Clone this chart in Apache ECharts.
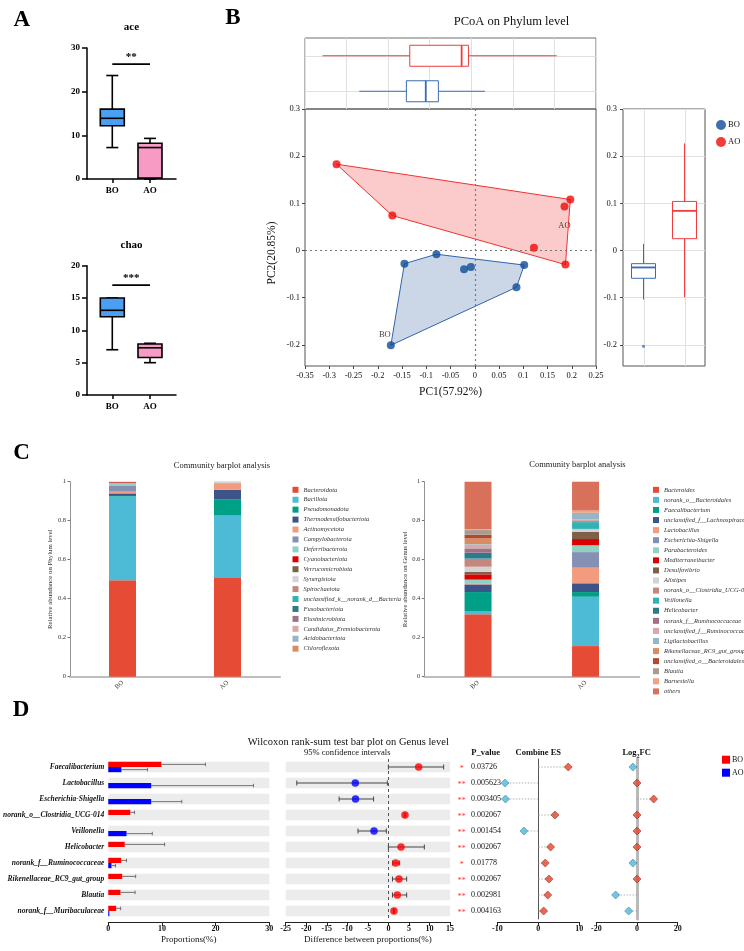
<!DOCTYPE html>
<html>
<head>
<meta charset="utf-8">
<script src="https://cdn.jsdelivr.net/npm/echarts@6.0.0/dist/echarts.min.js"></script>
<style>
html, body { margin: 0; padding: 0; background: #fff; }
#wrap { position: relative; width: 744px; height: 951px; }
.layer { position: absolute; left: 0; top: 0; width: 744px; height: 951px; }
</style>
</head>
<body>
<div id="wrap">
  <div class="layer" id="pa"></div>
  <div class="layer" id="pb"></div>
  <div class="layer" id="pc1"></div>
  <div class="layer" id="pc2"></div>
  <div class="layer" id="pd"></div>
</div>
<script>
const SERIF = "'Liberation Serif','Times New Roman',serif";

// ---------- A: alpha diversity (min, Q1, median, Q3, max) ----------
const groupsA = ['BO', 'AO'];
const aceBO = [7.2, 12.2, 13.9, 16.0, 23.7];
const aceAO = [0.0, 0.2, 7.2, 8.2, 9.3];
const chaoBO = [7.0, 12.1, 13.1, 15.0, 15.0];
const chaoAO = [5.0, 5.8, 7.3, 7.9, 8.0];
const aceSig = { y: 26.3, stars: '**' };
const chaoSig = { y: 17, stars: '***' };

// ---------- B: PCoA ----------
const aoPC1 = [-0.285, -0.170, 0.122, 0.197, 0.185, 0.187];
const aoPC2 = [0.183, 0.074, 0.006, 0.108, 0.093, -0.030];
const boPC1 = [-0.145, -0.079, -0.022, -0.008, 0.102, 0.086, -0.173];
const boPC2 = [-0.028, -0.008, -0.040, -0.035, -0.031, -0.078, -0.201];
// marginal boxes: lower whisker, Q1, median, Q3, upper whisker
const pc1BoxAO = [-0.314, -0.134, -0.027, -0.013, 0.169];
const pc1BoxBO = [-0.238, -0.141, -0.101, -0.075, 0.021];
const pc2BoxBO = [-0.104, -0.059, -0.036, -0.028, 0.014];
const pc2BoxAO = [-0.099, 0.025, 0.084, 0.104, 0.227];
const pc2OutlierBO = [-0.203];
const pc2Ticks = [-0.2, -0.1, 0, 0.1, 0.2, 0.3];

// ---------- C: community barplots ----------
const samples = ['BO', 'AO'];
const phylumNames = ['Bacteroidota', 'Bacillota', 'Pseudomonadota', 'Thermodesulfobacteriota', 'Actinomycetota',
  'Campylobacterota', 'Deferribacterota', 'Cyanobacteriota', 'Verrucomicrobiota', 'Synergistota', 'Spirochaetota',
  'unclassified_k__norank_d__Bacteria', 'Fusobacteriota', 'Elusimicrobiota', 'Candidatus_Eremiobacterota',
  'Acidobacteriota', 'Chloroflexota'];
const phylumBO = [0.494, 0.430, 0.003, 0.013, 0.009, 0.032, 0.012, 0.004, 0.001, 0.001, 0.001, 0, 0, 0, 0, 0, 0];
const phylumAO = [0.506, 0.320, 0.082, 0.051, 0.032, 0.002, 0.001, 0, 0, 0.004, 0.001, 0.001, 0, 0, 0, 0, 0];
const genusNames = ['Bacteroides', 'norank_o__Bacteroidales', 'Faecalibacterium', 'unclassified_f__Lachnospiraceae',
  'Lactobacillus', 'Escherichia-Shigella', 'Parabacteroides', 'Mediterraneibacter', 'Desulfovibrio', 'Alistipes',
  'norank_o__Clostridia_UCG-014', 'Veillonella', 'Helicobacter', 'norank_f__Ruminococcaceae',
  'unclassified_f__Ruminococcaceae', 'Ligilactobacillus', 'Rikenellaceae_RC9_gut_group',
  'unclassified_o__Bacteroidales', 'Blautia', 'Barnesiella', 'others'];
const genusBO = [0.320, 0.017, 0.097, 0.039, 0.002, 0.001, 0.022, 0.027, 0.012, 0.027, 0.040, 0.002, 0.030,
  0.022, 0.019, 0.003, 0.029, 0.019, 0.024, 0.005, 0.243];
const genusAO = [0.157, 0.253, 0.024, 0.045, 0.080, 0.080, 0.035, 0.032, 0.036, 0.014, 0.002, 0.034, 0.002,
  0.004, 0.008, 0.028, 0.002, 0.002, 0.003, 0.011, 0.150];
const palette = ['#e64b35', '#4dbbd5', '#00a087', '#3c5488', '#f39b7f', '#8491b4', '#91d1c2', '#dc0000',
  '#7e6148', '#d3d3d3', '#c4877e', '#2fb3b3', '#2e7a89', '#a07089', '#d8a9ab', '#94b6c9', '#d98c5f',
  '#b4472c', '#a89b8f', '#f2a183', '#d9705a'];

// ---------- D: Wilcoxon rank-sum test ----------
const genera = ['Faecalibacterium', 'Lactobacillus', 'Escherichia-Shigella', 'norank_o__Clostridia_UCG-014',
  'Veillonella', 'Helicobacter', 'norank_f__Ruminococcaceae', 'Rikenellaceae_RC9_gut_group', 'Blautia',
  'norank_f__Muribaculaceae'];
const boMean = [9.9, 0, 0, 4.1, 0, 3.06, 2.4, 2.6, 2.27, 1.47];
const boErr = [8.2, 0, 0, 0.8, 0, 7.44, 1.0, 2.5, 2.73, 0.83];
const aoMean = [2.45, 8.0, 8.0, 0, 3.4, 0, 0.6, 0, 0, 0.2];
const aoErr = [4.85, 19.06, 5.7, 0, 4.8, 0, 0.75, 0, 0, 0];
const diffMean = [7.37, -8.06, -8.0, 4.04, -3.5, 3.07, 1.77, 2.58, 2.17, 1.36];
const ciLow = [0.0, -22.3, -12.0, 3.95, -7.4, 0.0, 1.04, 1.0, 1.0, 1.25];
const ciHigh = [13.45, -0.25, -3.6, 4.15, -0.5, 8.75, 2.74, 4.45, 4.45, 1.5];
const pValues = ['0.03726', '0.005623', '0.003405', '0.002067', '0.001454', '0.002067', '0.01778', '0.002067',
  '0.002981', '0.004163'];
const combineES = [7.3, -8.1, -8.0, 4.07, -3.5, 3.0, 1.7, 2.6, 2.3, 1.3];
const log2FC = [-2.0, 0, 8.2, 0, 0, 0, -2.0, 0, -10.5, -4.1];

function txt(text, x, y, size, opts) {
  return {
    type: 'text', x: x, y: y, silent: true,
    style: Object.assign({
      text: text, fontFamily: SERIF, fontSize: size, fill: '#000',
      align: 'center', verticalAlign: 'middle'
    }, opts || {})
  };
}

// ================= Panel A =================
function gpBox(fills) {
  return function (params, api) {
    const x = api.value(0);
    const p = [1, 2, 3, 4, 5].map(k => api.coord([x, api.value(k)]));
    const cx = p[0][0], h = 12, c = 6;
    const st = { stroke: '#000', lineWidth: 1.6 };
    return {
      type: 'group', children: [
        { type: 'line', shape: { x1: cx, y1: p[4][1], x2: cx, y2: p[3][1] }, style: st },
        { type: 'line', shape: { x1: cx, y1: p[1][1], x2: cx, y2: p[0][1] }, style: st },
        { type: 'line', shape: { x1: cx - c, y1: p[4][1], x2: cx + c, y2: p[4][1] }, style: st },
        { type: 'line', shape: { x1: cx - c, y1: p[0][1], x2: cx + c, y2: p[0][1] }, style: st },
        { type: 'rect', shape: { x: cx - h, y: p[3][1], width: 2 * h, height: p[1][1] - p[3][1] },
          style: { fill: fills[params.dataIndex], stroke: '#000', lineWidth: 1.6 } },
        { type: 'line', shape: { x1: cx - h, y1: p[2][1], x2: cx + h, y2: p[2][1] }, style: st }
      ]
    };
  };
}
function sigSeries(axisIdx, sig) {
  return {
    type: 'custom', xAxisIndex: axisIdx, yAxisIndex: axisIdx, data: [[0, sig.y]],
    renderItem: function (params, api) {
      const a = api.coord([0, sig.y]), b = api.coord([1, sig.y]);
      return {
        type: 'group', children: [
          { type: 'line', shape: { x1: a[0], y1: a[1], x2: b[0], y2: b[1] }, style: { stroke: '#000', lineWidth: 1.8 } },
          { type: 'text', style: { text: sig.stars, x: (a[0] + b[0]) / 2, y: a[1] - 7, fontFamily: SERIF,
            fontSize: 11, fontWeight: 'bold', fill: '#000', align: 'center', verticalAlign: 'middle' } }
        ]
      };
    }
  };
}
const blackLine = { color: '#000', width: 1.5 };
function aX(i) {
  return {
    gridIndex: i, type: 'value', min: -0.671, max: 1.69,
    axisLine: { onZero: false, lineStyle: blackLine },
    axisTick: { customValues: [0, 1], length: 4, lineStyle: blackLine },
    axisLabel: { customValues: [0, 1], formatter: v => groupsA[Math.round(v)], fontFamily: SERIF,
      fontWeight: 'bold', fontSize: 9, color: '#000', margin: 7 },
    splitLine: { show: false }
  };
}
function aY(i, max, interval) {
  return {
    gridIndex: i, type: 'value', min: 0, max: max, interval: interval,
    axisLine: { show: true, onZero: false, lineStyle: blackLine },
    axisTick: { show: true, length: 5, lineStyle: blackLine },
    axisLabel: { fontFamily: SERIF, fontWeight: 'bold', fontSize: 9, color: '#000', margin: 7 },
    splitLine: { show: false }
  };
}
const boxFillsA = ['#4a9ff2', '#f79ac4'];
echarts.init(document.getElementById('pa')).setOption({
  animation: false,
  grid: [{ left: 87, top: 48, width: 89, height: 131 }, { left: 87, top: 265.7, width: 89, height: 129.3 }],
  xAxis: [aX(0), aX(1)],
  yAxis: [aY(0, 30, 10), aY(1, 20, 5)],
  graphic: [
    txt('A', 21.7, 20, 23, { fontWeight: 'bold' }),
    txt('ace', 131.5, 27.5, 11, { fontWeight: 'bold' }),
    txt('chao', 131.5, 245, 11, { fontWeight: 'bold' })
  ],
  series: [
    { type: 'custom', xAxisIndex: 0, yAxisIndex: 0, renderItem: gpBox(boxFillsA),
      data: [[0].concat(aceBO), [1].concat(aceAO)] },
    { type: 'custom', xAxisIndex: 1, yAxisIndex: 1, renderItem: gpBox(boxFillsA),
      data: [[0].concat(chaoBO), [1].concat(chaoAO)] },
    sigSeries(0, aceSig),
    sigSeries(1, chaoSig)
  ]
});

// ================= Panel B =================
function convexHull(xs, ys) {
  const pts = xs.map((x, i) => [x, ys[i]]).sort((a, b) => a[0] - b[0] || a[1] - b[1]);
  const cross = (o, a, b) => (a[0] - o[0]) * (b[1] - o[1]) - (a[1] - o[1]) * (b[0] - o[0]);
  const lower = [], upper = [];
  pts.forEach(p => {
    while (lower.length >= 2 && cross(lower[lower.length - 2], lower[lower.length - 1], p) <= 0) lower.pop();
    lower.push(p);
  });
  pts.slice().reverse().forEach(p => {
    while (upper.length >= 2 && cross(upper[upper.length - 2], upper[upper.length - 1], p) <= 0) upper.pop();
    upper.push(p);
  });
  return lower.slice(0, -1).concat(upper.slice(0, -1));
}
function hullSeries(xs, ys, fill, stroke) {
  const hull = convexHull(xs, ys);
  return {
    type: 'custom', xAxisIndex: 1, yAxisIndex: 1, z: 1, silent: true, data: hull,
    renderItem: function (params, api) {
      if (params.dataIndex !== 0) return null;
      return { type: 'polygon', shape: { points: hull.map(p => api.coord(p)) },
        style: { fill: fill, stroke: stroke, lineWidth: 1 } };
    }
  };
}
// outlined box; horizontal = boxes along x at a given y slot
function olBox(horizontal, colors, half) {
  return function (params, api) {
    const slot = api.value(0);
    const p = [1, 2, 3, 4, 5].map(k => horizontal ? api.coord([api.value(k), slot]) : api.coord([slot, api.value(k)]));
    const col = colors[params.dataIndex];
    const st = { stroke: col, lineWidth: 1 };
    let kids;
    if (horizontal) {
      const cy = p[0][1];
      kids = [
        { type: 'line', shape: { x1: p[0][0], y1: cy, x2: p[1][0], y2: cy }, style: st },
        { type: 'line', shape: { x1: p[3][0], y1: cy, x2: p[4][0], y2: cy }, style: st },
        { type: 'rect', shape: { x: p[1][0], y: cy - half, width: p[3][0] - p[1][0], height: 2 * half },
          style: { fill: '#fff', stroke: col, lineWidth: 1 } },
        { type: 'line', shape: { x1: p[2][0], y1: cy - half, x2: p[2][0], y2: cy + half }, style: { stroke: col, lineWidth: 1.8 } }
      ];
    } else {
      const cx = p[0][0];
      kids = [
        { type: 'line', shape: { x1: cx, y1: p[0][1], x2: cx, y2: p[1][1] }, style: st },
        { type: 'line', shape: { x1: cx, y1: p[3][1], x2: cx, y2: p[4][1] }, style: st },
        { type: 'rect', shape: { x: cx - half, y: p[3][1], width: 2 * half, height: p[1][1] - p[3][1] },
          style: { fill: '#fff', stroke: col, lineWidth: 1 } },
        { type: 'line', shape: { x1: cx - half, y1: p[2][1], x2: cx + half, y2: p[2][1] }, style: { stroke: col, lineWidth: 1.8 } }
      ];
    }
    return { type: 'group', children: kids };
  };
}
const guideColor = '#e0e0e0';
// full-height guide line through each group position of the PC2 box panel (snapped to the pixel grid)
function groupGuide(params, api) {
  const top = api.coord([api.value(0), 0.3]);
  const bottom = api.coord([api.value(0), -0.245]);
  const x = Math.round(top[0]) + 0.5;
  return { type: 'line', shape: { x1: x, y1: top[1], x2: x, y2: bottom[1] },
    style: { stroke: guideColor, lineWidth: 1 } };
}
const redB = '#f03c3c', blueB = '#3a6cb4';
const axisTxtB = { fontFamily: SERIF, fontSize: 8.5, color: '#111' };
const guide = { silent: true, symbol: 'none', z: 0, label: { show: false },
  lineStyle: { color: guideColor, width: 1, type: 'solid' } };
echarts.init(document.getElementById('pb')).setOption({
  animation: false,
  grid: [
    { left: 305, top: 38, width: 291, height: 71, show: true, borderColor: '#6e6e6e', borderWidth: 1 },
    { left: 305, top: 109, width: 291, height: 257, show: true, borderColor: '#555', borderWidth: 1 },
    { left: 623, top: 109, width: 82, height: 257, show: true, borderColor: '#555', borderWidth: 1 }
  ],
  xAxis: [
    { gridIndex: 0, type: 'value', min: -0.35, max: 0.25, interval: 0.6 / 7, axisLine: { show: false, onZero: false },
      axisTick: { show: false }, axisLabel: { show: false }, splitLine: { lineStyle: { color: guideColor } } },
    { gridIndex: 1, type: 'value', min: -0.35, max: 0.25, interval: 0.05, axisLine: { show: false, onZero: false },
      axisTick: { show: true, length: 3, lineStyle: { color: '#444' } }, axisLabel: Object.assign({ margin: 5 }, axisTxtB),
      splitLine: { show: false }, name: 'PC1(57.92%)', nameLocation: 'middle', nameGap: 20,
      nameTextStyle: { fontFamily: SERIF, fontSize: 11.5, color: '#111' } },
    { gridIndex: 2, type: 'value', min: -0.5, max: 1.5, axisLine: { show: false, onZero: false },
      axisTick: { show: false }, axisLabel: { show: false }, splitLine: { show: false } }
  ],
  yAxis: [
    { gridIndex: 0, type: 'value', min: 0, max: 4, show: false, axisLine: { onZero: false } },
    { gridIndex: 1, type: 'value', min: -0.245, max: 0.3, axisLine: { show: false, onZero: false },
      axisTick: { show: true, length: 3, customValues: pc2Ticks, lineStyle: { color: '#444' } },
      axisLabel: Object.assign({ margin: 5, customValues: pc2Ticks }, axisTxtB), splitLine: { show: false } },
    { gridIndex: 2, type: 'value', min: -0.245, max: 0.3, axisLine: { show: false, onZero: false },
      axisTick: { show: true, length: 3, customValues: pc2Ticks, lineStyle: { color: '#444' } },
      axisLabel: Object.assign({ margin: 6, customValues: pc2Ticks }, axisTxtB),
      splitLine: { show: true, lineStyle: { color: guideColor } } }
  ],
  legend: { orient: 'vertical', left: 711, top: 115, itemWidth: 10, itemHeight: 10, itemGap: 7, icon: 'circle',
    data: ['BO', 'AO'], textStyle: { fontFamily: SERIF, fontSize: 8.5, color: '#111', padding: [0, 0, 0, -3] } },
  graphic: [
    txt('B', 233, 18.5, 23, { fontWeight: 'bold' }),
    txt('PCoA on Phylum level', 511.5, 22, 12.5, { fill: '#111' }),
    Object.assign(txt('PC2(20.85%)', 271.7, 253, 11.5, { fill: '#111' }), { rotation: Math.PI / 2 })
  ],
  series: [
    { type: 'custom', name: 'pc1box', xAxisIndex: 0, yAxisIndex: 0, z: 3,
      renderItem: olBox(true, [redB, blueB], 10.5),
      data: [[3].concat(pc1BoxAO), [1].concat(pc1BoxBO)],
      markLine: Object.assign({ data: [{ yAxis: 1 }, { yAxis: 3 }] }, guide) },
    { type: 'custom', name: 'pc2guide', xAxisIndex: 2, yAxisIndex: 2, z: 2, silent: true,
      renderItem: groupGuide, data: [[0, 0], [1, 0]] },
    { type: 'custom', name: 'pc2box', xAxisIndex: 2, yAxisIndex: 2, z: 3,
      renderItem: olBox(false, [blueB, redB], 12),
      data: [[0].concat(pc2BoxBO), [1].concat(pc2BoxAO)] },
    { type: 'scatter', name: 'pc2out', xAxisIndex: 2, yAxisIndex: 2, symbolSize: 3, z: 4,
      itemStyle: { color: blueB }, data: pc2OutlierBO.map(v => [0, v]) },
    hullSeries(aoPC1, aoPC2, 'rgba(240,70,70,0.28)', '#ef3030'),
    hullSeries(boPC1, boPC2, 'rgba(70,110,165,0.28)', '#2f63ad'),
    { type: 'scatter', name: 'BO', xAxisIndex: 1, yAxisIndex: 1, symbolSize: 8, z: 5,
      itemStyle: { color: '#0f4c97' },
      markLine: { silent: true, symbol: 'none', label: { show: false },
        lineStyle: { color: '#777', width: 1.2, type: [2, 3] }, data: [{ xAxis: 0 }, { yAxis: 0 }] },
      data: boPC1.map((x, i) => {
        const d = { value: [x, boPC2[i]] };
        if (boPC2[i] === Math.min.apply(null, boPC2)) {
          d.label = { show: true, formatter: 'BO', position: 'top', offset: [-6, 0], distance: 2,
            fontFamily: SERIF, fontSize: 8.5, color: '#111' };
        }
        return d;
      }) },
    { type: 'scatter', name: 'AO', xAxisIndex: 1, yAxisIndex: 1, symbolSize: 8, z: 5,
      itemStyle: { color: '#f00a0a' },
      data: aoPC1.map((x, i) => {
        const d = { value: [x, aoPC2[i]] };
        if (i === 4) {
          d.label = { show: true, formatter: 'AO', position: 'bottom', distance: 11,
            fontFamily: SERIF, fontSize: 8.5, color: '#111' };
        }
        return d;
      }) }
  ]
});

// ================= Panel C =================
function communityOption(o) {
  return {
    animation: false,
    grid: { left: o.left, top: 481.7, width: o.width, height: 195 },
    xAxis: { type: 'category', data: samples,
      axisLine: { lineStyle: { color: '#bdbdbd', width: 2 } }, axisTick: { show: false },
      axisLabel: { rotate: 45, fontFamily: SERIF, fontSize: 6.5, color: '#333', margin: 5 } },
    yAxis: { type: 'value', min: 0, max: 1, interval: 0.2, name: o.yName, nameLocation: 'middle', nameGap: 15,
      nameRotate: 90, nameTextStyle: { fontFamily: SERIF, fontSize: 6.8, color: '#333' },
      axisLine: { show: true, lineStyle: { color: '#777', width: 0.8 } },
      axisTick: { show: true, length: 2.5, lineStyle: { color: '#777' } },
      axisLabel: { fontFamily: SERIF, fontSize: 6.5, color: '#333', margin: 4 }, splitLine: { show: false } },
    legend: { orient: 'vertical', left: o.legendLeft, top: 481.3, itemWidth: 6, itemHeight: 6, itemGap: o.gap,
      icon: 'rect', data: o.names,
      textStyle: { fontFamily: SERIF, fontStyle: 'italic', fontSize: 6.5, color: '#333', lineHeight: 7 } },
    graphic: o.graphic,
    series: o.names.map((n, i) => ({
      name: n, type: 'bar', stack: 'all', barWidth: 27, data: [o.bo[i], o.ao[i]],
      itemStyle: { color: palette[i] }
    }))
  };
}
echarts.init(document.getElementById('pc1')).setOption(communityOption({
  left: 70, width: 210, legendLeft: 287.5, gap: 2.93, names: phylumNames, bo: phylumBO, ao: phylumAO,
  yName: 'Relative abundance on Phylum level',
  graphic: [txt('C', 21.5, 453, 23, { fontWeight: 'bold' }),
    txt('Community barplot analysis', 222, 465.5, 8.5, { fill: '#222' })]
}));
echarts.init(document.getElementById('pc2')).setOption(communityOption({
  left: 424.3, width: 215, legendLeft: 648, gap: 3.08, names: genusNames, bo: genusBO, ao: genusAO,
  yName: 'Relative abundance on Genus level',
  graphic: [txt('Community barplot analysis', 577.5, 465, 8.5, { fill: '#222' })]
}));

// ================= Panel D =================
const RED = '#ff0000', BLUE = '#0000ff';
const rowsTop = 759, rowsH = 160;
function dX(g, min, max, interval) {
  return { gridIndex: g, type: 'value', min: min, max: max, interval: interval, offset: 3,
    axisLine: { show: true, onZero: false, lineStyle: { color: '#222', width: 1 } },
    axisTick: { show: true, length: 4, lineStyle: { color: '#222' } },
    axisLabel: { fontFamily: SERIF, fontWeight: 'bold', fontSize: 8, color: '#111', margin: 3 },
    splitLine: { show: false } };
}
function dY(g, extra) {
  return Object.assign({ gridIndex: g, type: 'category', data: genera, inverse: true,
    axisLine: { show: false }, axisTick: { show: false }, axisLabel: { show: false }, splitLine: { show: false } }, extra || {});
}
function errRender(offset) {
  return function (params, api) {
    const a = api.coord([api.value(0), api.value(2)]), b = api.coord([api.value(0) + api.value(1), api.value(2)]);
    const y = a[1] + offset;
    const st = { stroke: '#555', lineWidth: 0.8 };
    return { type: 'group', children: [
      { type: 'line', shape: { x1: a[0], y1: y, x2: b[0], y2: y }, style: st },
      { type: 'line', shape: { x1: b[0], y1: y - 1.8, x2: b[0], y2: y + 1.8 }, style: st }
    ] };
  };
}
function ciRender(params, api) {
  const a = api.coord([api.value(0), api.value(2)]), b = api.coord([api.value(1), api.value(2)]);
  const st = { stroke: '#444', lineWidth: 1 };
  return { type: 'group', children: [
    { type: 'line', shape: { x1: a[0], y1: a[1], x2: b[0], y2: b[1] }, style: st },
    { type: 'line', shape: { x1: a[0], y1: a[1] - 2.5, x2: a[0], y2: a[1] + 2.5 }, style: st },
    { type: 'line', shape: { x1: b[0], y1: b[1] - 2.5, x2: b[0], y2: b[1] + 2.5 }, style: st }
  ] };
}
function pRender(params, api) {
  const c = api.coord([0, api.value(1)]);
  const p = parseFloat(pValues[params.dataIndex]);
  const stars = p < 0.01 ? '**' : (p < 0.05 ? '*' : '');
  return { type: 'group', children: [
    { type: 'text', style: { text: stars, x: 461.7, y: c[1] + 1.5, fontFamily: SERIF, fontSize: 8, fill: '#ff3333',
      align: 'center', verticalAlign: 'middle' } },
    { type: 'text', style: { text: pValues[params.dataIndex], x: 471, y: c[1], fontFamily: SERIF, fontSize: 8,
      fill: '#111', align: 'left', verticalAlign: 'middle' } }
  ] };
}
function stemRender(params, api) {
  const a = api.coord([0, api.value(1)]), b = api.coord([api.value(0), api.value(1)]);
  return { type: 'line', shape: { x1: a[0], y1: a[1], x2: b[0], y2: b[1] },
    style: { stroke: '#a0a0a0', lineWidth: 0.8, lineDash: [1.5, 1.5] } };
}
function diamonds(vals, g) {
  return { type: 'scatter', xAxisIndex: g, yAxisIndex: g, symbol: 'diamond', symbolSize: [8, 8], z: 4,
    data: vals.map((v, i) => ({ value: [v, i], itemStyle: v >= 0
      ? { color: '#e0452b', borderColor: '#9a2a18', borderWidth: 0.7 }
      : { color: '#52b7d9', borderColor: '#2b7fa6', borderWidth: 0.7 } })) };
}
echarts.init(document.getElementById('pd')).setOption({
  animation: false,
  grid: [
    { left: 106, top: rowsTop, width: 163.3, height: rowsH },
    { left: 285.7, top: rowsTop, width: 164.3, height: rowsH },
    { left: 455, top: rowsTop, width: 40, height: rowsH },
    { left: 497.3, top: rowsTop, width: 82, height: rowsH },
    { left: 596.3, top: rowsTop, width: 81.4, height: rowsH }
  ],
  xAxis: [
    Object.assign(dX(0, 0, 30, 10), { name: 'Proportions(%)', nameLocation: 'middle', nameGap: 13,
      nameTextStyle: { fontFamily: SERIF, fontSize: 9, color: '#111' } }),
    Object.assign(dX(1, -25, 15, 5), { name: 'Difference between proportions(%)', nameLocation: 'middle', nameGap: 13,
      nameTextStyle: { fontFamily: SERIF, fontSize: 9, color: '#111' } }),
    { gridIndex: 2, type: 'value', min: 0, max: 1, show: false },
    dX(3, -10, 10, 10),
    dX(4, -20, 20, 20)
  ],
  yAxis: [
    dY(0, { axisLabel: { show: true, fontFamily: SERIF, fontStyle: 'italic', fontWeight: 'bold', fontSize: 7.5,
      color: '#111', margin: 4 } }),
    dY(1),
    dY(2),
    dY(3, { axisLine: { show: true, onZero: true, lineStyle: { color: '#555', width: 1 } } }),
    dY(4, { axisLine: { show: true, onZero: true, lineStyle: { color: '#b9b9b9', width: 3 } } })
  ],
  legend: { orient: 'vertical', left: 717, top: 750.7, itemWidth: 8, itemHeight: 8, itemGap: 5, icon: 'rect',
    data: ['BO', 'AO'], textStyle: { fontFamily: SERIF, fontSize: 8, color: '#111', padding: [0, 0, 0, -3] } },
  graphic: [
    txt('D', 21, 710.5, 23, { fontWeight: 'bold' }),
    txt('Wilcoxon rank-sum test bar plot on Genus level', 348.3, 742.7, 10.5, { fill: '#111' }),
    txt('95% confidence intervals', 347.3, 752.5, 8.5, { fill: '#111' }),
    txt('P_value', 485.7, 752.5, 8.5, { fill: '#111', fontWeight: 'bold' }),
    txt('Combine ES', 538.3, 752.5, 8.5, { fill: '#111', fontWeight: 'bold' }),
    txt('Log{s|2}FC', 636.7, 752.5, 8.5, { fill: '#111', fontWeight: 'bold',
      rich: { s: { fontFamily: SERIF, fontSize: 6, fontWeight: 'bold', fill: '#111', lineHeight: 14,
        verticalAlign: 'bottom' } } })
  ],
  series: [
    { type: 'bar', name: 'BO', xAxisIndex: 0, yAxisIndex: 0, barWidth: 5.2, barGap: '0%', itemStyle: { color: RED },
      showBackground: true, backgroundStyle: { color: '#ececec' }, data: boMean },
    { type: 'bar', name: 'AO', xAxisIndex: 0, yAxisIndex: 0, barWidth: 5.2, barGap: '0%', itemStyle: { color: BLUE },
      showBackground: true, backgroundStyle: { color: '#ececec' }, data: aoMean },
    { type: 'custom', xAxisIndex: 0, yAxisIndex: 0, z: 3, renderItem: errRender(-2.6),
      data: boMean.map((v, i) => [v, boErr[i], i]).filter(d => d[1] > 0) },
    { type: 'custom', xAxisIndex: 0, yAxisIndex: 0, z: 3, renderItem: errRender(2.6),
      data: aoMean.map((v, i) => [v, aoErr[i], i]).filter(d => d[1] > 0) },
    { type: 'bar', xAxisIndex: 1, yAxisIndex: 1, barWidth: 10.4, itemStyle: { color: 'transparent' },
      showBackground: true, backgroundStyle: { color: '#ececec' }, data: diffMean, silent: true },
    { type: 'custom', xAxisIndex: 1, yAxisIndex: 1, z: 3, renderItem: ciRender,
      data: ciLow.map((v, i) => [v, ciHigh[i], i]) },
    { type: 'scatter', xAxisIndex: 1, yAxisIndex: 1, symbolSize: 7.5, z: 4,
      markLine: { silent: true, symbol: 'none', label: { show: false },
        lineStyle: { color: '#555', width: 1, type: [3, 3] }, data: [{ xAxis: 0 }] },
      data: diffMean.map((v, i) => ({ value: [v, i], itemStyle: { color: v >= 0 ? RED : BLUE } })) },
    { type: 'custom', xAxisIndex: 2, yAxisIndex: 2, renderItem: pRender, data: pValues.map((p, i) => [0, i]) },
    { type: 'custom', xAxisIndex: 3, yAxisIndex: 3, z: 2, renderItem: stemRender, data: combineES.map((v, i) => [v, i]) },
    diamonds(combineES, 3),
    { type: 'custom', xAxisIndex: 4, yAxisIndex: 4, z: 2, renderItem: stemRender, data: log2FC.map((v, i) => [v, i]) },
    diamonds(log2FC, 4)
  ]
});
</script>
</body>
</html>
